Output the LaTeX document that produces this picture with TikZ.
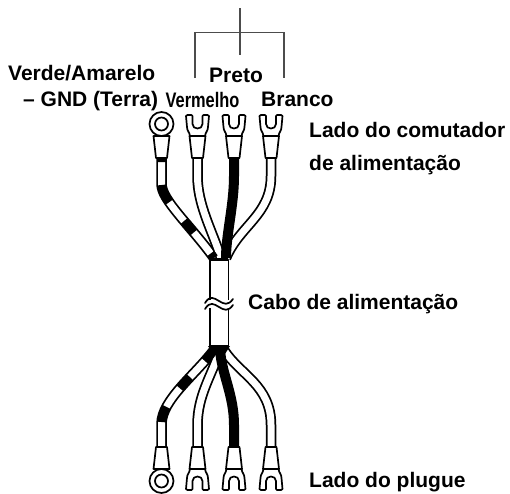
\documentclass[tikz,border=0pt]{standalone}
\usepackage{fontspec}
\setmainfont{Liberation Sans}
\tikzset{
  lbl/.style={font=\fontsize{21}{23}\selectfont\bfseries,anchor=base west,inner sep=0pt},
  outl/.style={line width=1.7pt,black,line cap=round,line join=round},
  wireout/.style={line width=10.5pt,black},
  wirein/.style={line width=7pt,white},
  solidwire/.style={line width=10pt,black},
  bracket/.style={line width=1.2pt,black!70},
  pics/sleeve/.style={code={
    \draw[outl,fill=white] (-8,0) -- (8,0) -- (5.5,22) -- (-5.5,22) -- cycle;
  }},
  pics/forklug/.style={code={
    \draw[outl,fill=white] (-7.5,0) .. controls (-8,-4) and (-10.5,-5) .. (-10.5,-9)
      -- (-11.5,-20) -- (-10,-21) -- (-6,-21) -- (-5,-20) -- (-5,-12) .. controls (-5,-6) and (5,-6) .. (5,-12)
      -- (5,-20) -- (6,-21) -- (10,-21) -- (11.5,-20) -- (10.5,-9) .. controls (10.5,-5) and (8,-4) .. (7.5,0) -- cycle;
    \pic {sleeve};
  }},
  pics/ringlug/.style={code={
    \draw[outl,fill=white] (0,-12) circle (12);
    \draw[outl,fill=white] (0,-12) circle (6.5);
    \pic {sleeve};
  }}
}
\begin{document}
\begin{tikzpicture}[x=1pt,y=-1pt]
\useasboundingbox[fill=white] (0,0) rectangle (510,493);
% bracket
\coordinate (bt) at (240,8);
\coordinate (bb) at (240,55);
\coordinate (bl) at (195,32.5);
\coordinate (br) at (284,32.5);
\coordinate (bld) at (195,78);
\coordinate (brd) at (284,78);
\draw[bracket] (bt) -- (bb);
\draw[bracket] (bld) -- (bl) -- (br) -- (brd);
% top wires
\def\wireTa{(161.5,158) -- (161.5,184) .. controls (161.5,200) and (190,225) .. (214,258)}
\def\wireTb{(197.5,158) -- (197.5,176) .. controls (197.5,205) and (212,230) .. (221,258)}
\def\wireTc{(234,158) -- (234,176) .. controls (234,205) and (226,235) .. (226,258)}
\def\wireTd{(271,158) -- (271,176) .. controls (271,215) and (240,225) .. (226,258)}
\draw[wireout] \wireTa; \draw[wirein] \wireTa;
\draw[wireout] \wireTb; \draw[wirein] \wireTb;
\draw[wireout] \wireTd; \draw[wirein] \wireTd;
\draw[solidwire] \wireTc;
\draw[line width=9pt,black,dash pattern=on 4pt off 23pt on 19pt off 24pt on 15pt off 27pt on 22pt off 100pt] \wireTa;
\fill (210,258) -- (228,258) -- (228,262) -- (210,262) -- cycle;
% bottom wires
\def\wireBa{(161.5,448) -- (161.5,424) .. controls (161.5,400) and (195,375) .. (214,350)}
\def\wireBb{(197.5,448) -- (197.5,425) .. controls (197.5,395) and (212,375) .. (220,350)}
\def\wireBc{(234,448) -- (234,425) .. controls (234,395) and (222,375) .. (220,350)}
\def\wireBd{(271,448) -- (271,425) .. controls (271,385) and (240,375) .. (224,350)}
\draw[wireout] \wireBa; \draw[wirein] \wireBa;
\draw[wireout] \wireBb; \draw[wirein] \wireBb;
\draw[wireout] \wireBd; \draw[wirein] \wireBd;
\draw[solidwire] \wireBc;
\draw[line width=9pt,black,dash pattern=on 0pt off 26pt on 16pt off 23pt on 15pt off 22pt on 20pt off 100pt] \wireBa;
\fill (208,346) -- (230,346) -- (225,354) -- (213,354) -- cycle;
% cable
\draw[outl,fill=white] (210,260) rectangle (228.5,346);
\fill[white] (204,300) rectangle (234,308);
\draw[outl] (205,303) .. controls (210,295) and (214,298) .. (219,301) .. controls (224,304) and (228,306) .. (233,299);
\draw[outl] (205,309) .. controls (210,301) and (214,304) .. (219,307) .. controls (224,310) and (228,312) .. (233,305);
% lugs
\pic at (161.5,136) {ringlug};
\pic at (197.5,136) {forklug};
\pic at (234,136) {forklug};
\pic at (271,136) {forklug};
\begin{scope}[shift={(0,469)},yscale=-1]
\pic[transform shape] at (161.5,0) {ringlug};
\pic[transform shape] at (197.5,0) {forklug};
\pic[transform shape] at (234,0) {forklug};
\pic[transform shape] at (271,0) {forklug};
\end{scope}
% texts
\node[lbl] (t1) at (8,80) {Verde/Amarelo};
\node[lbl] (t2) at (23,106) {– GND (Terra)};
\node[lbl] (t3) at (209,82) {Preto};
\node[lbl,anchor=base,xscale=.78] (t4) at (202.5,107) {Vermelho};
\node[lbl] (t5) at (261,106) {Branco};
\node[lbl] (t6) at (309,137) {Lado do comutador};
\node[lbl] (t7) at (309,170) {de alimentação};
\node[lbl] (t8) at (248,309) {Cabo de alimentação};
\node[lbl] (t9) at (309,487) {Lado do plugue};
\end{tikzpicture}
\end{document}
